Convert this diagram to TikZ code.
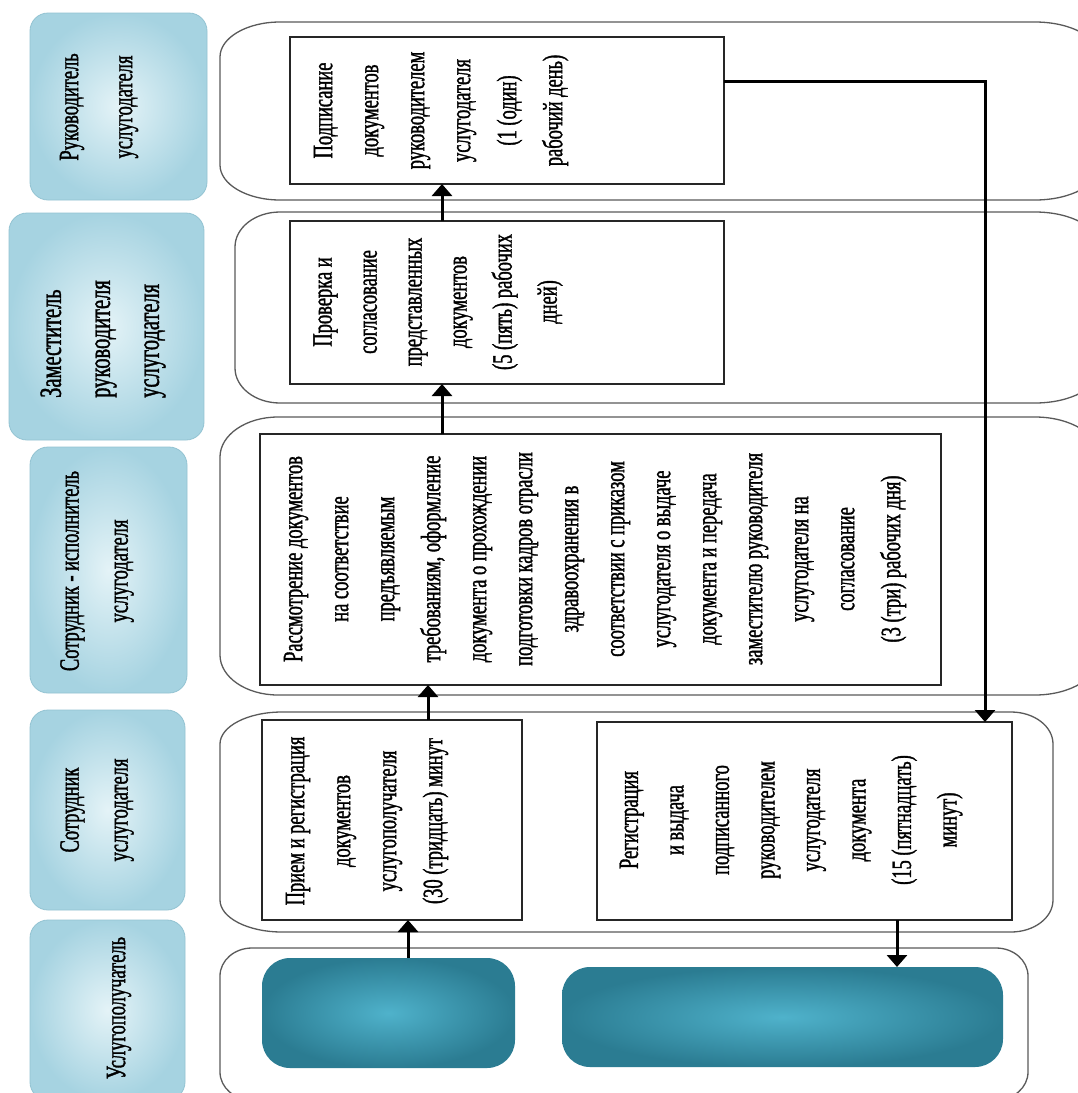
\documentclass[tikz,border=0pt]{standalone}
\usepackage{fontspec}
\setmainfont{Liberation Serif}
\newfontfamily\bodyfont{Liberation Serif}[FakeStretch=0.66,FakeBold=1.2]
\usetikzlibrary{arrows.meta,calc}

\definecolor{hdrin}{HTML}{E4F3F7}
\definecolor{hdrout}{HTML}{A6D3E1}
\definecolor{hdrline}{HTML}{93C3D2}
\definecolor{tealin}{HTML}{4FB2CB}
\definecolor{tealout}{HTML}{2B7C92}
\definecolor{laneline}{HTML}{5A5A5A}

\tikzset{
  hdrbox/.style={rectangle, rounded corners=18pt, draw=hdrline, line width=0.8pt,
    inner color=hdrin, outer color=hdrout, inner sep=0pt, outer sep=0pt},
  procbox/.style={rectangle, draw=black!85, line width=1.3pt, fill=white,
    inner sep=0pt, outer sep=0pt},
  tealbox/.style={rectangle, rounded corners=28pt, inner color=tealin,
    outer color=tealout, inner sep=0pt, outer sep=0pt},
  lanestyle/.style={draw=laneline, line width=1.3pt},
  txt/.style={rotate=90, align=center, inner sep=0pt,
    font=\bodyfont\fontsize{28}{46}\selectfont},
  arr/.style={line width=3pt, -{Triangle[width=20pt,length=12pt]}}
}

% x1 ytop x2 ybottom rx-left rx-right ry
\newcommand{\lanebox}[7]{%
  \draw[lanestyle] (#1+#5,-#2) -- (#3-#6,-#2)
    arc[start angle=90,end angle=0,x radius=#6pt,y radius=#7pt]
    -- (#3,-#4+#7)
    arc[start angle=0,end angle=-90,x radius=#6pt,y radius=#7pt]
    -- (#1+#5,-#4)
    arc[start angle=270,end angle=180,x radius=#5pt,y radius=#7pt]
    -- (#1,-#2-#7)
    arc[start angle=180,end angle=90,x radius=#5pt,y radius=#7pt]
    -- cycle;}

\begin{document}
\begin{tikzpicture}[x=1pt,y=1pt]
\useasboundingbox (0,0) rectangle (1078,-1093);
\clip (0,0) rectangle (1078,-1093);
\fill[white] (0,0) rectangle (1078,-1093);

% lanes
\lanebox{220}{22}{1100}{200}{60}{65}{35}
\lanebox{235}{212}{1100}{403}{45}{65}{35}
\lanebox{220}{417}{1100}{695}{58}{65}{40}
\lanebox{220}{712}{1053}{932}{62}{42}{32}
\lanebox{220}{948}{1028}{1100}{32}{32}{28}

% header boxes
\node[hdrbox, minimum width=177pt, minimum height=187pt] (h1) at (118.5,-106.5) {};
\node[hdrbox, minimum width=195pt, minimum height=227pt] (h2) at (106.5,-326.5) {};
\node[hdrbox, minimum width=157pt, minimum height=246pt] (h3) at (108.5,-570) {};
\node[hdrbox, minimum width=155pt, minimum height=200pt] (h4) at (107.5,-810) {};
\node[hdrbox, minimum width=155pt, minimum height=180pt] (h5) at (107.5,-1010) {};

\node[txt, font=\bodyfont\fontsize{28}{54}\selectfont] (h1t) at (99,-107)
  {Руководитель\\услугодателя};
\node[txt, align=left, anchor=west, font=\bodyfont\fontsize{31}{49}\selectfont] (h2t) at (103,-398)
  {Заместитель\\руководителя\\услугодателя};
\node[txt, font=\bodyfont\fontsize{28}{49}\selectfont] (h3t) at (97,-571)
  {Сотрудник - исполнитель\\услугодателя};
\node[txt, font=\bodyfont\fontsize{28}{49}\selectfont] (h4t) at (97,-810)
  {Сотрудник\\услугодателя};
\node[txt] (h5t) at (119,-1008) {Услугополучатель};

% process boxes
\node[procbox, minimum width=434pt, minimum height=147pt] (A) at (507,-110.5) {};
\node[procbox, minimum width=434pt, minimum height=163pt] (B) at (507,-302.5) {};
\node[procbox, minimum width=681pt, minimum height=251pt] (C) at (600.5,-559.5) {};
\node[procbox, minimum width=260pt, minimum height=200pt] (D) at (392,-820) {};
\node[procbox, minimum width=415pt, minimum height=198pt] (E) at (804.5,-821) {};
\node[tealbox, minimum width=253pt, minimum height=110pt] (T1) at (388.5,-1013) {};
\node[tealbox, minimum width=441pt, minimum height=100pt] (T2) at (782.5,-1017) {};

% texts
\node[txt] (At) at (441,-110.5)
  {Подписание\\документов\\руководителем\\услугодателя\\(1 (один)\\рабочий день)};
\node[txt, font=\bodyfont\fontsize{28}{45}\selectfont] (Bt) at (438,-302)
  {Проверка и\\согласование\\представленных\\документов\\(5 (пять) рабочих\\дней)};
\node[txt] (Ct) at (595,-559)
  {Рассмотрение документов\\на соответствие\\предъявляемым\\требованиям, оформление\\документа о прохождении\\подготовки кадров отрасли\\здравоохранения в\\соответствии с приказом\\услугодателя о выдаче\\документа и передача\\заместителю руководителя\\услугодателя на\\согласование\\(3 (три) рабочих дня)};
\node[txt] (Dt) at (367,-821)
  {Прием и регистрация\\документов\\услугополучателя\\(30 (тридцать) минут};
\node[txt, font=\bodyfont\fontsize{28}{45.5}\selectfont] (Et) at (791,-820)
  {Регистрация\\и выдача\\подписанного\\руководителем\\услугодателя\\документа\\(15 (пятнадцать)\\минут)};

% connectors
\draw[arr] ([xshift=19.5pt]T1.north) -- ([xshift=19.5pt]T1.north |- D.south);
\draw[arr] ([xshift=36pt]D.north) -- ([xshift=36pt]D.north |- C.south);
\draw[arr] ([xshift=-158.5pt]C.north) -- ([xshift=-158.5pt]C.north |- B.south);
\draw[arr] ([xshift=-65pt]B.north) -- ([xshift=-65pt]B.north |- A.south);
\draw[arr] ([yshift=29.5pt]A.east) -| ([xshift=180.5pt]E.north);
\draw[arr] ([xshift=92.5pt]E.south) -- ([xshift=92.5pt]E.south |- T2.north);
\end{tikzpicture}
\end{document}
